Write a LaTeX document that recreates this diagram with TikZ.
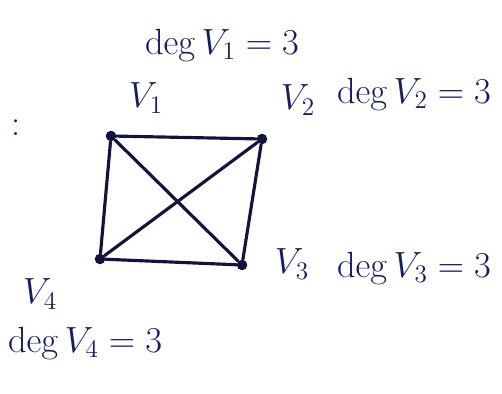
\documentclass[tikz,border=0pt]{standalone}
\usepackage{amsmath}
\usetikzlibrary{%
	calc,%
	positioning,%
}
\definecolor{cink}{RGB}{22, 28, 96}
\definecolor{cedge}{RGB}{18, 20, 60}
\tikzset{
	nodes={align=center},%
	vertexnode/.style={%
			circle,%
			fill=cedge,%
			inner sep=0,%
			minimum size=6pt},%
	graphedge/.style={%
			draw=cedge,%
			line width=1.8pt,%
			line cap=round},%
	labelnode/.style={%
			text=cink,%
			font={\huge},%
			inner sep=1pt},%
}
\begin{document}
\begin{tikzpicture}[x=0.02cm, y=-0.02cm]%
	\useasboundingbox (0,0) rectangle (502,394);

	\node[vertexnode] (v1) at (111,136) {};
	\node[vertexnode] (v2) at (262,139) {};
	\node[vertexnode] (v3) at (242,265) {};
	\node[vertexnode] (v4) at (100,259) {};

	\node[labelnode] (colon) at (16,128) {:};

	\node[labelnode] (lv1) at (146,98) {$V_1$};
	\node[labelnode] (dv1) at (222,45) {$\deg V_1=3$};
	\node[labelnode] (lv2) at (298,100) {$V_2$};
	\node[labelnode] (dv2) at (414,94) {$\deg V_2=3$};
	\node[labelnode] (lv3) at (292,264) {$V_3$};
	\node[labelnode] (dv3) at (414,268) {$\deg V_3=3$};
	\node[labelnode] (lv4) at (40,294) {$V_4$};
	\node[labelnode, anchor=west] (dv4) at (6,343) {$\deg V_4=3$};

	\draw[graphedge] (v1) -- (v2) -- (v3) -- (v4) -- (v1);
	\draw[graphedge] (v1) -- (v3);
	\draw[graphedge] (v2) -- (v4);
\end{tikzpicture}
\end{document}
